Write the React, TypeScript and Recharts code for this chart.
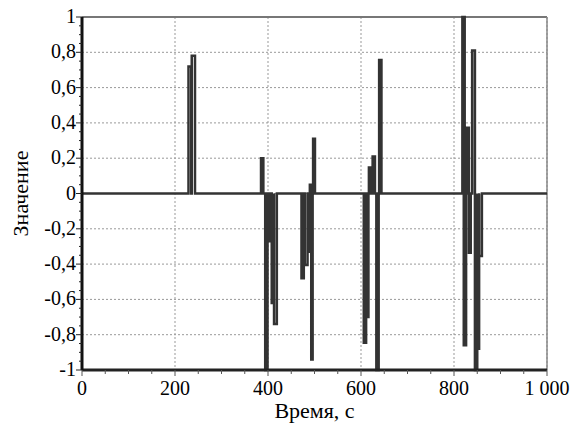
import { LineChart, Line, XAxis, YAxis, CartesianGrid, ReferenceLine } from "recharts";

// Pulses of the signal: start time, end time (s), level
const pulseStart = [229, 236, 385, 394, 400, 408, 413, 472, 479, 488, 490, 493, 497, 606, 612, 617, 625, 633, 639, 818, 821, 828, 832, 839, 845, 850, 854];
const pulseEnd = [235, 243, 390, 399, 404, 413, 419, 477, 485, 492, 493, 496, 501, 611, 616, 621, 630, 638, 644, 823, 826, 832, 836, 845, 850, 854, 860];
const pulseValue = [0.72, 0.78, 0.2, -1, -0.27, -0.62, -0.74, -0.48, -0.405, -0.33, 0.05, -0.94, 0.31, -0.845, -0.7, 0.147, 0.21, -1, 0.756, 1, -0.86, 0.373, -0.335, 0.81, -1, -0.88, -0.354];

const xMajor = [0, 200, 400, 600, 800, 1000];
const xMinor = [50, 100, 150, 250, 300, 350, 450, 500, 550, 650, 700, 750, 850, 900, 950];
const yMajor = [-1, -0.8, -0.6, -0.4, -0.2, 0, 0.2, 0.4, 0.6, 0.8, 1];
const yMinor = [-0.95, -0.9, -0.85, -0.75, -0.7, -0.65, -0.55, -0.5, -0.45, -0.35, -0.3, -0.25, -0.15, -0.1, -0.05, 0.05, 0.1, 0.15, 0.25, 0.3, 0.35, 0.45, 0.5, 0.55, 0.65, 0.7, 0.75, 0.85, 0.9, 0.95];

const FONT = '"Liberation Serif", "Times New Roman", serif';

const points: { t: number; v: number }[] = [{ t: 0, v: 0 }];
pulseStart.forEach((s, i) => {
  points.push({ t: s, v: 0 }, { t: s, v: pulseValue[i] }, { t: pulseEnd[i], v: pulseValue[i] }, { t: pulseEnd[i], v: 0 });
});
points.push({ t: 1000, v: 0 });

const fmtY = (v: number) => (Math.abs(v) < 1e-9 ? "0" : String(Number(v.toFixed(1))).replace(".", ","));
const fmtX = (v: number) => (v >= 1000 ? "1 000" : String(v));

const isMajor = (arr: number[], v: number) => arr.some((m) => Math.abs(m - v) < 1e-9);

function YTick(props: any) {
  const { x, y, payload } = props;
  const major = isMajor(yMajor, payload.value);
  return (
    <g>
      <line x1={x} x2={x - (major ? 6 : 3)} y1={y} y2={y} stroke="#222" strokeWidth={1} />
      {major && (
        <text x={x - 6} y={y} dy={6} textAnchor="end" style={{ fontFamily: FONT, fontSize: 20, fill: "#000" }}>
          {fmtY(payload.value)}
        </text>
      )}
    </g>
  );
}

function XTick(props: any) {
  const { x, y, payload } = props;
  const major = isMajor(xMajor, payload.value);
  return (
    <g>
      <line x1={x} x2={x} y1={y} y2={y + (major ? 6 : 4)} stroke="#555" strokeWidth={1} />
      {major && (
        <text x={x} y={y + 25} textAnchor="middle" style={{ fontFamily: FONT, fontSize: 20, fill: "#000" }}>
          {fmtX(payload.value)}
        </text>
      )}
    </g>
  );
}

export default function App() {
  const allX = [...xMajor, ...xMinor].sort((a, b) => a - b);
  const allY = [...yMajor, ...yMinor].sort((a, b) => a - b);
  return (
    <div style={{ position: "absolute", left: 0, top: 0, width: 575, height: 430, background: "#fff" }}>
      <LineChart width={575} height={430} data={points} margin={{ top: 17, right: 28, bottom: 0, left: 0 }}>
        <CartesianGrid
          stroke="#999"
          strokeDasharray="2 2"
          horizontalValues={yMajor}
          verticalValues={xMajor}
        />
        <ReferenceLine y={1} stroke="#777" strokeWidth={2} />
        <ReferenceLine x={1000} stroke="#888" strokeWidth={1.5} />
        <XAxis
          dataKey="t"
          type="number"
          domain={[0, 1000]}
          ticks={allX}
          interval={0}
          tick={<XTick />}
          tickLine={false}
          tickSize={0}
          tickMargin={0}
          height={60}
          axisLine={{ stroke: "#222", strokeWidth: 3 }}
          label={{ value: "Время, с", position: "insideBottom", offset: 12, fill: "#000", style: { fontFamily: FONT, fontSize: 22, fill: "#000" } }}
        />
        <YAxis
          dataKey="v"
          type="number"
          domain={[-1, 1]}
          ticks={allY}
          interval={0}
          tick={<YTick />}
          tickLine={false}
          tickSize={0}
          tickMargin={0}
          width={82}
          axisLine={{ stroke: "#111", strokeWidth: 3 }}
          label={{ value: "Значение", angle: -90, position: "insideLeft", offset: 20, fill: "#000", style: { textAnchor: "middle", fontFamily: FONT, fontSize: 22, fill: "#000" } }}
        />
        <Line
          type="linear"
          dataKey="v"
          stroke="#333"
          strokeWidth={2.5}
          dot={false}
          isAnimationActive={false}
        />
      </LineChart>
    </div>
  );
}
